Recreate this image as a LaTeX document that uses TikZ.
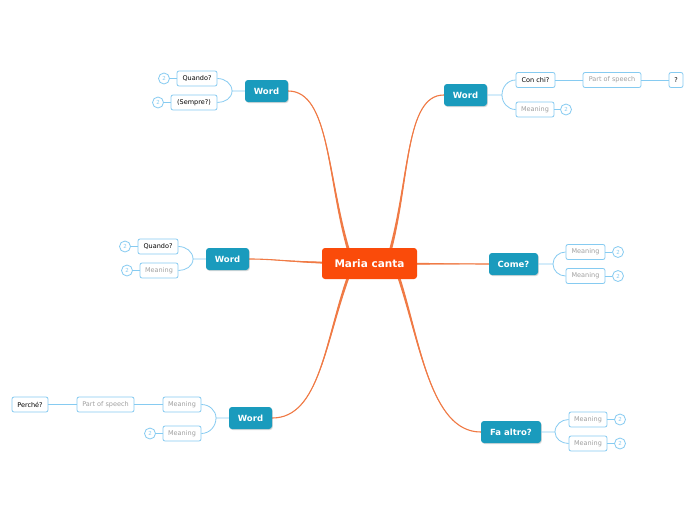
\documentclass[tikz,border=0pt]{standalone}
\usepackage{fontspec}
\setmainfont{DejaVu Sans}
\usetikzlibrary{shadows,backgrounds}
\definecolor{maincol}{HTML}{FA4B0A}
\definecolor{wordcol}{HTML}{1A9BBD}
\definecolor{branch}{HTML}{F07A45}
\definecolor{lblue}{HTML}{86CBF1}
\definecolor{greytext}{HTML}{A0A0A0}
\tikzset{
  mainbox/.style={draw=none, fill=maincol, rounded corners=3pt, text=white, font=\fontsize{10.5}{12}\selectfont\bfseries, minimum width=95pt, minimum height=31pt, inner sep=0pt},
  wordbox/.style={fill=wordcol, rounded corners=3pt, text=white, font=\fontsize{8.5}{10}\selectfont\bfseries, minimum height=22pt, inner sep=0pt, drop shadow={opacity=0.3, shadow xshift=0.8pt, shadow yshift=-1pt}},
  subbox/.style={draw=lblue, fill=white, line width=0.8pt, rounded corners=2pt, font=\fontsize{6.5}{8}\selectfont, minimum height=15pt, inner sep=0pt, text=black},
  greybox/.style={subbox, text=greytext},
  numcirc/.style={circle, draw=lblue, fill=white, line width=0.8pt, minimum size=11pt, inner sep=0pt, font=\fontsize{5.5}{6}\selectfont, text=lblue},
  bline/.style={draw=lblue, line width=0.8pt},
  oline/.style={draw=branch, line width=1.1pt, line cap=round},
  taper/.style={fill=branch, draw=none},
}
\begin{document}
\begin{tikzpicture}[x=1pt,y=1pt]
\path[use as bounding box] (0,0) rectangle (696,-520);

% main
\node[mainbox] (c) at (369.5,-263.5) {Maria canta};

% branch nodes
\node[wordbox, minimum width=43pt] (w1) at (266.5,-91) {Word};
\node[wordbox, minimum width=43pt] (w2) at (465.5,-95) {Word};
\node[wordbox, minimum width=43pt] (w3) at (227.5,-259) {Word};
\node[wordbox, minimum width=49pt] (w4) at (513.5,-264) {Come?};
\node[wordbox, minimum width=43pt] (w5) at (250.5,-418) {Word};
\node[wordbox, minimum width=60pt] (w6) at (511,-432) {Fa altro?};

% orange connectors (tapered)
\begin{scope}[on background layer]
\fill[white] (0,0) rectangle (696,-520);
% to w1
\fill[taper] ([shift={(-21.5,10)}]c.center) .. controls (326.2,-180) and (330,-91) .. (w1.east)
  .. controls (330,-91) and (327.8,-180) .. ([shift={(-18.5,10)}]c.center) -- cycle;
\draw[oline] ([shift={(-20,10)}]c.center) .. controls (327,-180) and (330,-91) .. (w1.east);
% to w2
\fill[taper] ([shift={(18.5,10)}]c.center) .. controls (409.2,-180) and (405,-95) .. (w2.west)
  .. controls (405,-95) and (410.8,-180) .. ([shift={(21.5,10)}]c.center) -- cycle;
\draw[oline] ([shift={(20,10)}]c.center) .. controls (410,-180) and (405,-95) .. (w2.west);
% to w3
\fill[taper] ([yshift=1.5pt]c.center) .. controls (290,-262.2) and (280,-259) .. (w3.east)
  .. controls (280,-259) and (290,-263.8) .. ([yshift=-1.5pt]c.center) -- cycle;
\draw[oline] (c.center) .. controls (290,-263) and (280,-259) .. (w3.east);
% to w4
\fill[taper] ([yshift=1.5pt]c.center) -- (w4.west) -- ([yshift=-1.5pt]c.center) -- cycle;
\draw[oline] (c.center) -- (w4.west);
% to w5
\fill[taper] ([shift={(-21.5,-10)}]c.center) .. controls (324.2,-340) and (320,-418) .. (w5.east)
  .. controls (320,-418) and (325.8,-340) .. ([shift={(-18.5,-10)}]c.center) -- cycle;
\draw[oline] ([shift={(-20,-10)}]c.center) .. controls (325,-340) and (320,-418) .. (w5.east);
% to w6
\fill[taper] ([shift={(26.5,-10)}]c.center) .. controls (419.2,-340) and (430,-432) .. (w6.west)
  .. controls (430,-432) and (420.8,-340) .. ([shift={(29.5,-10)}]c.center) -- cycle;
\draw[oline] ([shift={(28,-10)}]c.center) .. controls (420,-340) and (430,-432) .. (w6.west);
\end{scope}

% w1 children
\node[subbox, minimum width=40pt] (q1) at (197,-78.5) {Quando?};
\node[subbox, minimum width=46pt] (s1) at (194,-102.5) {(Sempre?)};
\node[numcirc] (n1) at (164,-78.5) {2};
\node[numcirc] (n2) at (158,-102.5) {2};
\coordinate (j1) at (232,-91);
\draw[bline] (w1.west) -- (j1) (j1) to[out=90,in=0] (q1.east) (j1) to[out=-90,in=0] (s1.east);
\draw[bline] (q1.west) -- (n1.east) (s1.west) -- (n2.east);

% w2 children
\node[subbox, minimum width=39pt] (cc) at (535.5,-80) {Con chi?};
\node[greybox, minimum width=58pt] (ps1) at (612,-80) {Part of speech};
\node[subbox, minimum width=14pt] (qm) at (676,-80) {?};
\node[greybox, minimum width=38pt] (m1) at (535,-109.5) {Meaning};
\node[numcirc] (n3) at (566,-109.5) {2};
\coordinate (j2) at (502,-95);
\draw[bline] (w2.east) -- (j2) (j2) to[out=90,in=180] (cc.west) (j2) to[out=-90,in=180] (m1.west);
\draw[bline] (cc.east) -- (ps1.west) (ps1.east) -- (qm.west) (m1.east) -- (n3.west);

% w3 children
\node[subbox, minimum width=40pt] (q2) at (158,-246.5) {Quando?};
\node[greybox, minimum width=38pt] (m2) at (159,-270.5) {Meaning};
\node[numcirc] (n4) at (125,-246.5) {2};
\node[numcirc] (n5) at (127,-270.5) {2};
\coordinate (j3) at (193,-259);
\draw[bline] (w3.west) -- (j3) (j3) to[out=90,in=0] (q2.east) (j3) to[out=-90,in=0] (m2.east);
\draw[bline] (q2.west) -- (n4.east) (m2.west) -- (n5.east);

% w4 children
\node[greybox, minimum width=39pt] (m3) at (585.5,-252) {Meaning};
\node[greybox, minimum width=39pt] (m4) at (585.5,-276) {Meaning};
\node[numcirc] (n6) at (618,-252) {2};
\node[numcirc] (n7) at (618,-276) {2};
\coordinate (j4) at (553,-264);
\draw[bline] (w4.east) -- (j4) (j4) to[out=90,in=180] (m3.west) (j4) to[out=-90,in=180] (m4.west);
\draw[bline] (m3.east) -- (n6.west) (m4.east) -- (n7.west);

% w5 children
\node[greybox, minimum width=38pt] (m5) at (182,-404.5) {Meaning};
\node[greybox, minimum width=57pt] (ps2) at (105.5,-404.5) {Part of speech};
\node[subbox, minimum width=36pt] (pc) at (30,-404.5) {Perché?};
\node[greybox, minimum width=38pt] (m6) at (182,-433.5) {Meaning};
\node[numcirc] (n8) at (150,-433.5) {2};
\coordinate (j5) at (216,-418);
\draw[bline] (w5.west) -- (j5) (j5) to[out=90,in=0] (m5.east) (j5) to[out=-90,in=0] (m6.east);
\draw[bline] (m5.west) -- (ps2.east) (ps2.west) -- (pc.east) (m6.west) -- (n8.east);

% w6 children
\node[greybox, minimum width=38pt] (m7) at (588,-419.5) {Meaning};
\node[greybox, minimum width=38pt] (m8) at (588,-443.5) {Meaning};
\node[numcirc] (n9) at (620,-419.5) {2};
\node[numcirc] (n10) at (620,-443.5) {2};
\coordinate (j6) at (555,-432);
\draw[bline] (w6.east) -- (j6) (j6) to[out=90,in=180] (m7.west) (j6) to[out=-90,in=180] (m8.west);
\draw[bline] (m7.east) -- (n9.west) (m8.east) -- (n10.west);
\end{tikzpicture}
\end{document}
